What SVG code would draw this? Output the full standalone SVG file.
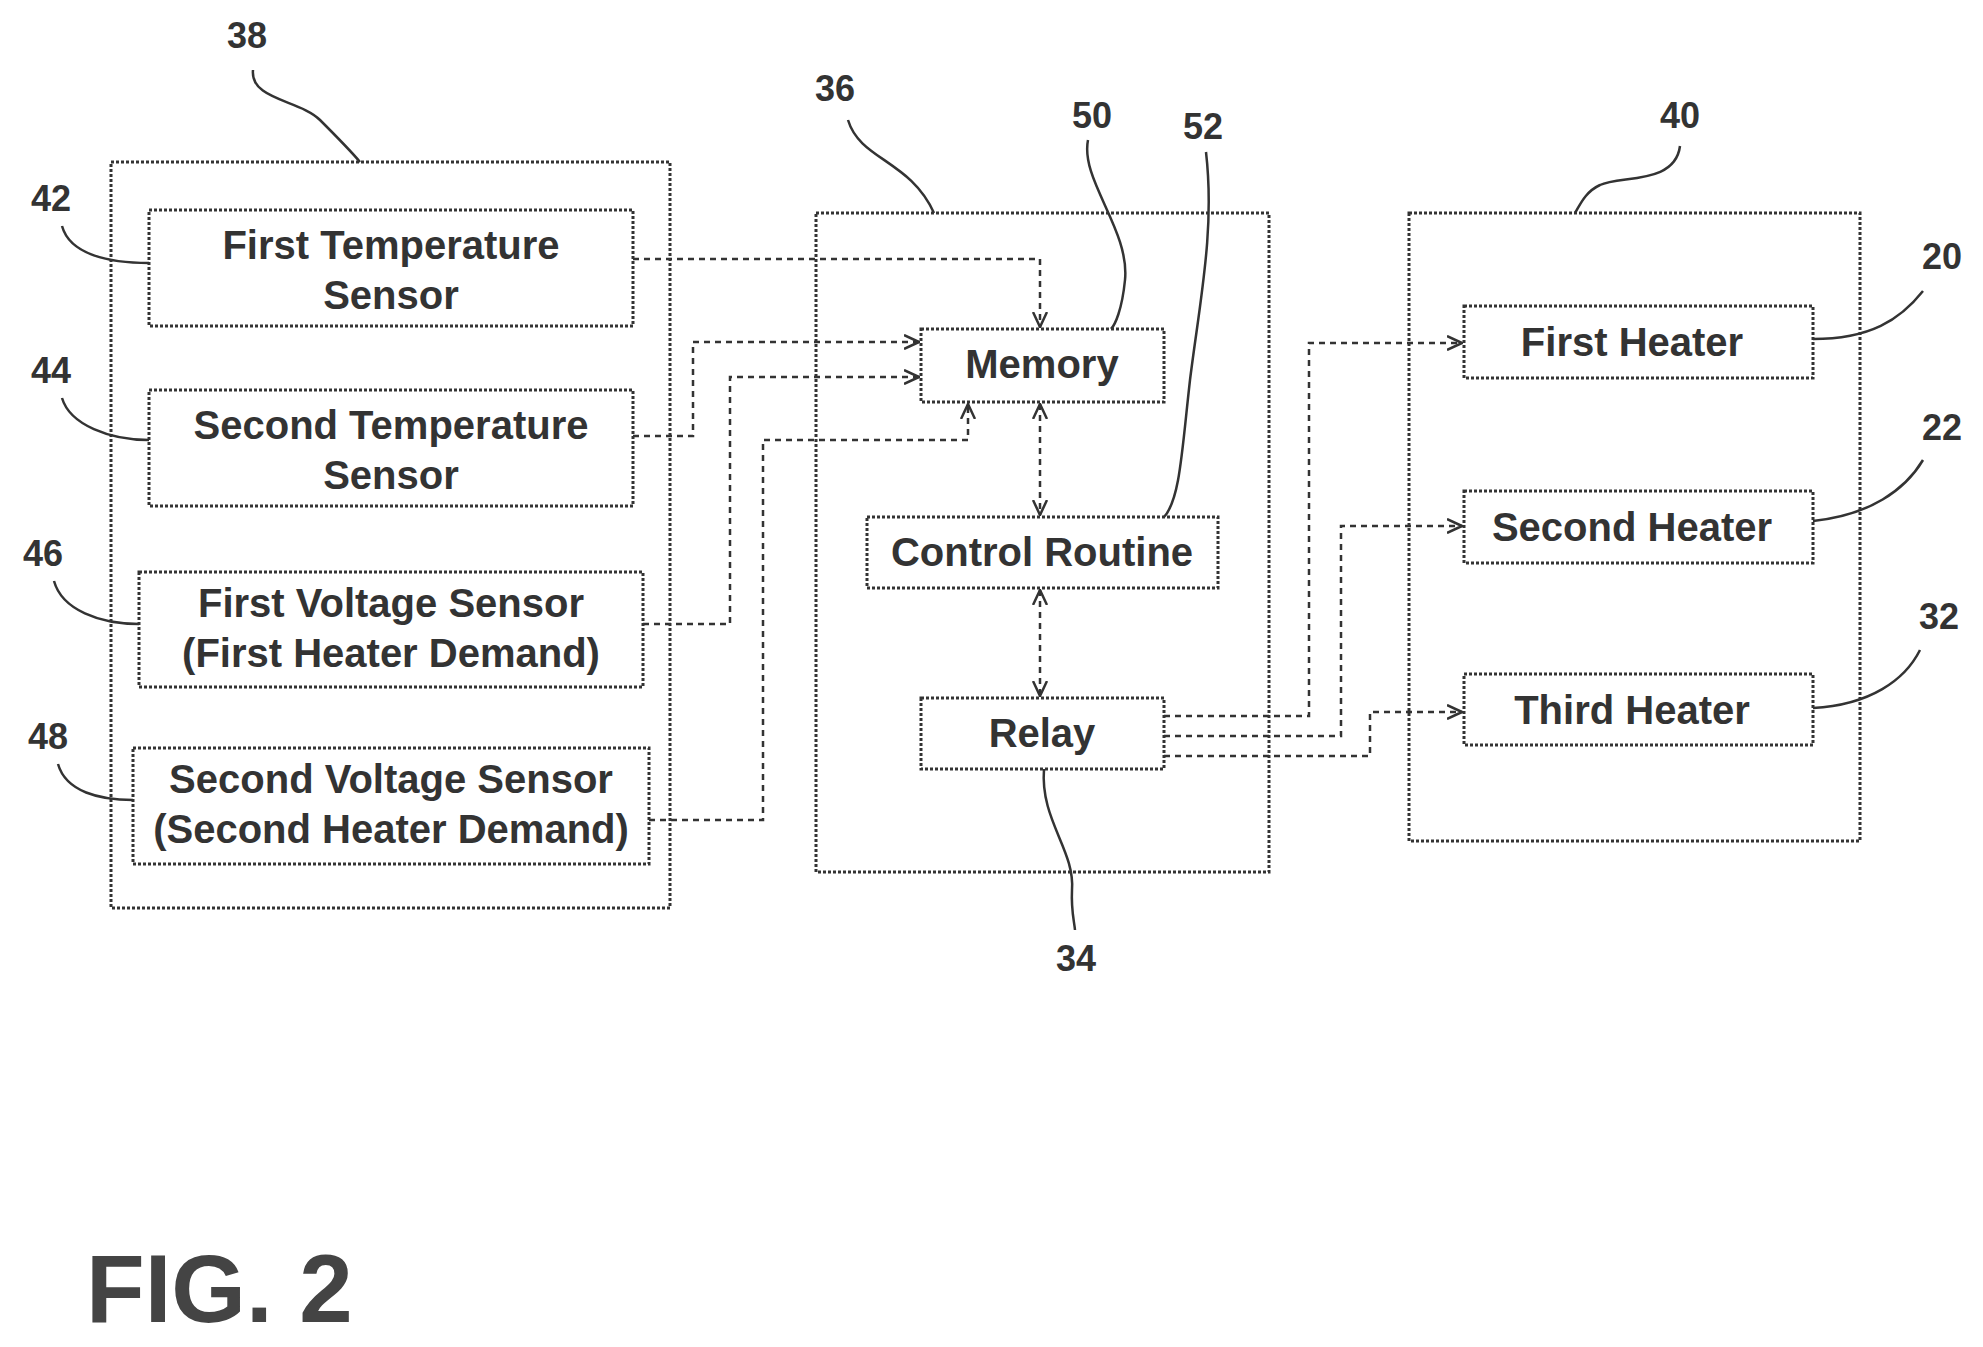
<svg xmlns="http://www.w3.org/2000/svg" width="1983" height="1347" viewBox="0 0 1983 1347">
<defs>
<marker id="ah" viewBox="0 0 16 16" refX="15" refY="8" markerWidth="16" markerHeight="16" markerUnits="userSpaceOnUse" orient="auto-start-reverse"><path d="M0,1 L15,8 L0,15" fill="none" stroke="#333" stroke-width="2.5"/></marker>
</defs>
<style>
.b{fill:none;stroke:#333;stroke-width:3;stroke-dasharray:3 2}
.t{font-family:"Liberation Sans",Arial,sans-serif;font-size:40px;font-weight:bold;fill:#333;text-anchor:middle}
.n{font-family:"Liberation Sans",Arial,sans-serif;font-size:36px;font-weight:bold;fill:#333;text-anchor:middle}
.c{fill:none;stroke:#333;stroke-width:2.5;stroke-dasharray:6 5}
.l{fill:none;stroke:#333;stroke-width:2.5}
</style>
<rect width="1983" height="1347" fill="#fff"/>
<g id="n38"><rect class="b" x="111" y="162" width="559" height="746"/></g>
<g id="n42"><rect class="b" x="149" y="210" width="484" height="116"/><text class="t" x="391" y="259">First Temperature</text><text class="t" x="391" y="309">Sensor</text></g>
<g id="n44"><rect class="b" x="149" y="390" width="484" height="116"/><text class="t" x="391" y="439">Second Temperature</text><text class="t" x="391" y="489">Sensor</text></g>
<g id="n46"><rect class="b" x="139" y="572" width="504" height="115"/><text class="t" x="391" y="617">First Voltage Sensor</text><text class="t" x="391" y="667">(First Heater Demand)</text></g>
<g id="n48"><rect class="b" x="133" y="748" width="516" height="116"/><text class="t" x="391" y="793">Second Voltage Sensor</text><text class="t" x="391" y="843">(Second Heater Demand)</text></g>
<g id="n36"><rect class="b" x="816" y="213" width="453" height="659"/></g>
<g id="n50"><rect class="b" x="921" y="329" width="243" height="73"/><text class="t" x="1042" y="378">Memory</text></g>
<g id="n52"><rect class="b" x="867" y="517" width="351" height="71"/><text class="t" x="1042" y="566">Control Routine</text></g>
<g id="n34"><rect class="b" x="921" y="698" width="243" height="71"/><text class="t" x="1042" y="747">Relay</text></g>
<g id="n40"><rect class="b" x="1409" y="213" width="451" height="628"/></g>
<g id="n20"><rect class="b" x="1464" y="306" width="349" height="72"/><text class="t" x="1632" y="356">First Heater</text></g>
<g id="n22"><rect class="b" x="1464" y="491" width="349" height="72"/><text class="t" x="1632" y="541">Second Heater</text></g>
<g id="n32"><rect class="b" x="1464" y="674" width="349" height="71"/><text class="t" x="1632" y="724">Third Heater</text></g>
<g id="connectors">
<path class="c" d="M633,259 H1040 V327" marker-end="url(#ah)"/>
<path class="c" d="M633,436 H693 V342 H919" marker-end="url(#ah)"/>
<path class="c" d="M643,624 H730 V377 H919" marker-end="url(#ah)"/>
<path class="c" d="M649,820 H763 V440 H968 V404" marker-end="url(#ah)"/>
<path class="c" d="M1040,404 V515" marker-start="url(#ah)" marker-end="url(#ah)"/>
<path class="c" d="M1040,590 V696" marker-start="url(#ah)" marker-end="url(#ah)"/>
<path class="c" d="M1164,716 H1309 V343 H1462" marker-end="url(#ah)"/>
<path class="c" d="M1164,736 H1341 V526 H1462" marker-end="url(#ah)"/>
<path class="c" d="M1164,756 H1370 V712 H1462" marker-end="url(#ah)"/>
</g>
<g id="labels">
<text class="n" x="247" y="48">38</text><path class="l" d="M253,70 C250,100 300,100 320,120 C340,140 350,150 360,162"/>
<text class="n" x="835" y="101">36</text><path class="l" d="M848,120 C860,160 910,160 934,213"/>
<text class="n" x="1092" y="128">50</text><path class="l" d="M1088,140 C1080,180 1130,230 1125,280 C1122,310 1115,325 1111,329"/>
<text class="n" x="1203" y="139">52</text><path class="l" d="M1206,152 C1215,230 1200,300 1190,380 C1182,450 1180,500 1164,517"/>
<text class="n" x="1680" y="128">40</text><path class="l" d="M1680,146 C1675,185 1620,175 1600,185 C1585,192 1580,205 1575,213"/>
<text class="n" x="51" y="211">42</text><path class="l" d="M62,226 C70,255 110,263 149,263"/>
<text class="n" x="51" y="383">44</text><path class="l" d="M62,398 C70,425 110,440 149,440"/>
<text class="n" x="43" y="566">46</text><path class="l" d="M54,581 C62,610 100,624 139,624"/>
<text class="n" x="48" y="749">48</text><path class="l" d="M58,764 C66,792 100,800 133,800"/>
<text class="n" x="1942" y="269">20</text><path class="l" d="M1813,339 C1870,339 1900,320 1923,291"/>
<text class="n" x="1942" y="440">22</text><path class="l" d="M1813,521 C1870,515 1905,490 1923,460"/>
<text class="n" x="1939" y="629">32</text><path class="l" d="M1813,708 C1870,705 1905,680 1920,650"/>
<text class="n" x="1076" y="971">34</text><path class="l" d="M1044,769 C1040,820 1075,850 1072,890 C1071,910 1074,920 1075,930"/>
</g>
<text x="86" y="1322" style="font-family:'Liberation Sans',Arial,sans-serif;font-size:96px;font-weight:bold;fill:#444">FIG. 2</text>
</svg>
